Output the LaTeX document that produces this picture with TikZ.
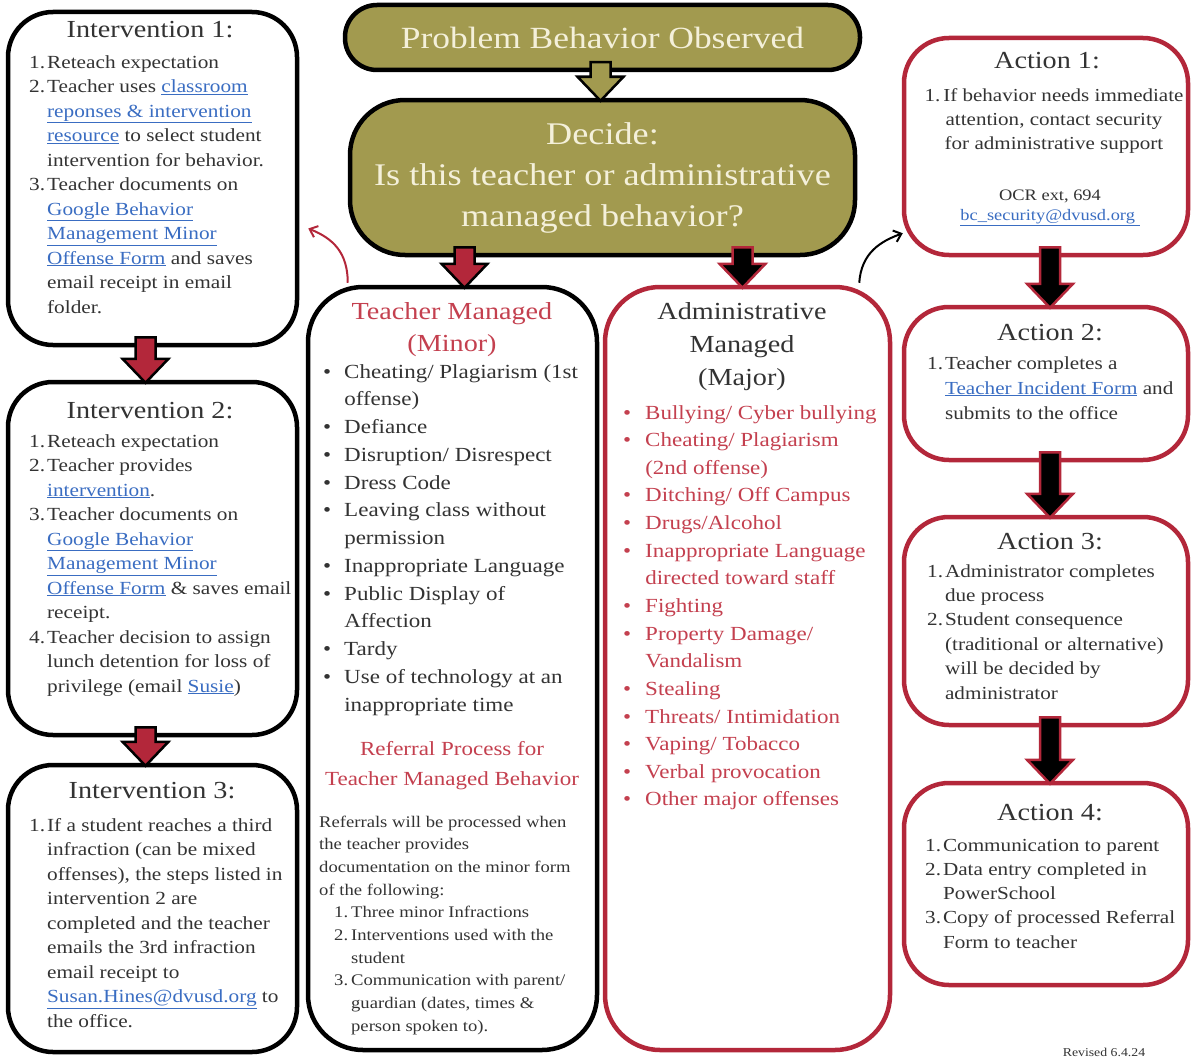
\documentclass[tikz,border=0pt]{standalone}
\usepackage{fontspec}
\setmainfont{Liberation Serif}[FakeStretch=1.15]
\usetikzlibrary{calc,arrows.meta}
\definecolor{olv}{HTML}{A29A4F}
\definecolor{brd}{HTML}{B3273A}
\definecolor{rtxt}{HTML}{C4404F}
\definecolor{btxt}{HTML}{333333}
\definecolor{lnkc}{HTML}{3A6DC2}
\definecolor{cream}{HTML}{F4F0DA}
\newcommand\lnk[1]{\textcolor{lnkc}{\underline{#1}}}
\newcommand\fs[2]{\fontsize{#1}{#2}\selectfont}
\newcommand\blockarr[5]{%
 \filldraw[fill=#4,draw=#5,line width=2.5pt,line join=miter]
 let \p1=(#1.south), \p2=(#2.north) in
 (\x2#3pt-10pt,\y1+10pt) -- (\x2#3pt+10pt,\y1+10pt) -- (\x2#3pt+10pt,\y2+21pt) --
 (\x2#3pt+23pt,\y2+21pt) -- (\x2#3pt,\y2-3pt) -- (\x2#3pt-23pt,\y2+21pt) --
 (\x2#3pt-10pt,\y2+21pt) -- cycle;}
\begin{document}
\begin{tikzpicture}[x=1pt,y=-1pt,
 bbox/.style={draw=black, line width=4.5pt, rounded corners=#1, inner sep=0pt, fill=white},
 bbox/.default=45pt,
 rbox/.style={bbox=#1, draw=brd},
 rbox/.default=45pt,
 obox/.style={bbox=#1, fill=olv, text=cream},
 obox/.default=30pt,
 txt/.style={inner sep=0pt, text=btxt},
 ttl/.style={txt, anchor=base, font=\fs{24.5}{30}},
 body/.style={txt, anchor=base west, font=\fs{18.5}{24.5}},
 curv/.style={line width=2pt, -{Straight Barb[length=7pt,width=12pt]}}
]
\useasboundingbox (0,0) rectangle (1191,1057);

% ---------- top boxes ----------
\node[obox=32pt, minimum width=515pt, minimum height=65pt, font=\fs{30.8}{41}] (prob) at (602.5,37.5) {Problem Behavior Observed};
\node[obox=55pt, minimum width=505pt, minimum height=155pt, font=\fs{31.5}{41}, align=center] (decide) at (602.5,177.5)
 {Decide:\\Is this teacher or administrative\\managed behavior?};

% ---------- left column ----------
\node[bbox=45pt, minimum width=289pt, minimum height=333pt] (int1) at (152.5,178.5) {};
\node[bbox=45pt, minimum width=289pt, minimum height=353pt] (int2) at (152.5,558.5) {};
\node[bbox=45pt, minimum width=289pt, minimum height=287pt] (int3) at (152.5,908.5) {};

% ---------- middle columns ----------
\node[bbox=55pt, minimum width=289pt, minimum height=763pt] (teacher) at (452.5,668.5) {};
\node[rbox=55pt, minimum width=285pt, minimum height=763pt] (admin) at (747.5,668.5) {};

% ---------- right column ----------
\node[rbox=45pt, minimum width=284pt, minimum height=217pt] (act1) at (1046,146.5) {};
\node[rbox=45pt, minimum width=284pt, minimum height=153pt] (act2) at (1046,383.5) {};
\node[rbox=45pt, minimum width=284pt, minimum height=208pt] (act3) at (1046,621) {};
\node[rbox=45pt, minimum width=284pt, minimum height=202pt] (act4) at (1046,884) {};

% ---------- block arrows ----------
\blockarr{prob}{decide}{-2}{olv}{black}
\blockarr{decide}{teacher}{+12}{brd}{black}
\blockarr{decide}{admin}{-5}{black}{brd}
\blockarr{int1}{int2}{-7}{brd}{black}
\blockarr{int2}{int3}{-7}{brd}{black}
\blockarr{act1}{act2}{+4}{black}{brd}
\blockarr{act2}{act3}{+4}{black}{brd}
\blockarr{act3}{act4}{+4}{black}{brd}

% ---------- curved arrows ----------
\coordinate (tstart) at ($(teacher.north west)+(42,-2)$);
\coordinate (i1end) at ($(int1.east)+(9,50)$);
\draw[curv, draw=brd] (tstart) .. controls +(0,-30) and +(25,10) .. (i1end);
\coordinate (astart) at ($(admin.north east)+(-33,-2)$);
\coordinate (a1end) at ($(act1.south west)+(1,-24)$);
\draw[curv, draw=black] (astart) .. controls +(2,-30) and +(-22,8) .. (a1end);

% ---------- Intervention 1 ----------
\node[ttl] (int1h) at (150,38) {Intervention 1:};
\node[body] (int1b) at (29,68) {\begin{tabular}[t]{@{}r@{\hspace{2pt}}l@{}}
1.&Reteach expectation\\
2.&Teacher uses \lnk{classroom}\\
&\lnk{reponses \& intervention}\\
&\lnk{resource} to select student\\
&intervention for behavior.\\
3.&Teacher documents on\\
&\lnk{Google Behavior}\\
&\lnk{Management Minor}\\
&\lnk{Offense Form} and saves\\
&email receipt in email\\
&folder.
\end{tabular}};

% ---------- Intervention 2 ----------
\node[ttl] (int2h) at (150,418) {Intervention 2:};
\node[body] (int2b) at (29,447) {\begin{tabular}[t]{@{}r@{\hspace{2pt}}l@{}}
1.&Reteach expectation\\
2.&Teacher provides\\
&\lnk{intervention}.\\
3.&Teacher documents on\\
&\lnk{Google Behavior}\\
&\lnk{Management Minor}\\
&\lnk{Offense Form} \& saves email\\
&receipt.\\
4.&Teacher decision to assign\\
&lunch detention for loss of\\
&privilege (email \lnk{Susie})
\end{tabular}};

% ---------- Intervention 3 ----------
\node[ttl] (int3h) at (152,798) {Intervention 3:};
\node[body] (int3b) at (29,831) {\begin{tabular}[t]{@{}r@{\hspace{2pt}}l@{}}
1.&If a student reaches a third\\
&infraction (can be mixed\\
&offenses), the steps listed in\\
&intervention 2 are\\
&completed and the teacher\\
&emails the 3rd infraction\\
&email receipt to\\
&\lnk{Susan.Hines@dvusd.org} to\\
&the office.
\end{tabular}};

% ---------- Teacher managed ----------
\node[ttl, text=rtxt, font=\fs{24.5}{32}] (teah) at (452,319) {\begin{tabular}[t]{@{}c@{}}Teacher Managed\\(Minor)\end{tabular}};
\node[body, font=\fs{20}{27.75}] (teab) at (323,378) {\begin{tabular}[t]{@{}l@{\hspace{13pt}}l@{}}
\textbullet&Cheating/ Plagiarism (1st\\
&offense)\\
\textbullet&Defiance\\
\textbullet&Disruption/ Disrespect\\
\textbullet&Dress Code\\
\textbullet&Leaving class without\\
&permission\\
\textbullet&Inappropriate Language\\
\textbullet&Public Display of\\
&Affection\\
\textbullet&Tardy\\
\textbullet&Use of technology at an\\
&inappropriate time
\end{tabular}};
\node[ttl, text=rtxt, font=\fs{20}{30}] (refh) at (452,755) {\begin{tabular}[t]{@{}c@{}}Referral Process for\\Teacher Managed Behavior\end{tabular}};
\node[body, font=\fs{16.2}{22.67}] (refb) at (319,827) {\begin{tabular}[t]{@{}r@{\hspace{3pt}}l@{}}
\multicolumn{2}{@{}l@{}}{Referrals will be processed when}\\
\multicolumn{2}{@{}l@{}}{the teacher provides}\\
\multicolumn{2}{@{}l@{}}{documentation on the minor form}\\
\multicolumn{2}{@{}l@{}}{of the following:}\\
\hspace{15pt}1.&Three minor Infractions\\
2.&Interventions used with the\\
&student\\
3.&Communication with parent/\\
&guardian (dates, times \&\\
&person spoken to).
\end{tabular}};

% ---------- Administrative managed ----------
\node[ttl, font=\fs{24.5}{33}] (admh) at (742,319) {\begin{tabular}[t]{@{}c@{}}Administrative\\Managed\\(Major)\end{tabular}};
\node[body, text=rtxt, font=\fs{20}{27.64}] (admb) at (623,419) {\begin{tabular}[t]{@{}l@{\hspace{14pt}}l@{}}
\textbullet&Bullying/ Cyber bullying\\
\textbullet&Cheating/ Plagiarism\\
&(2nd offense)\\
\textbullet&Ditching/ Off Campus\\
\textbullet&Drugs/Alcohol\\
\textbullet&Inappropriate Language\\
&directed toward staff\\
\textbullet&Fighting\\
\textbullet&Property Damage/\\
&Vandalism\\
\textbullet&Stealing\\
\textbullet&Threats/ Intimidation\\
\textbullet&Vaping/ Tobacco\\
\textbullet&Verbal provocation\\
\textbullet&Other major offenses
\end{tabular}};

% ---------- Actions ----------
\node[ttl] (a1h) at (1047,68) {Action 1:};
\node[txt, anchor=base, font=\fs{18.3}{24}] (a1b) at (1054,101) {\begin{tabular}[t]{@{}c@{}}
1.\,If behavior needs immediate\\
attention, contact security\\
for administrative support
\end{tabular}};
\node[txt, anchor=base, font=\fs{16}{20}] (a1c) at (1050,200) {\begin{tabular}[t]{@{}c@{}}
OCR ext, 694\\
\lnk{bc\_security@dvusd.org\ }
\end{tabular}};

\node[ttl] (a2h) at (1050,340) {Action 2:};
\node[body, font=\fs{18.4}{25}] (a2b) at (927,369) {\begin{tabular}[t]{@{}r@{\hspace{2pt}}l@{}}
1.&Teacher completes a\\
&\lnk{Teacher Incident Form} and\\
&submits to the office
\end{tabular}};

\node[ttl] (a3h) at (1050,549) {Action 3:};
\node[body, font=\fs{18.4}{24.4}] (a3b) at (927,577) {\begin{tabular}[t]{@{}r@{\hspace{2pt}}l@{}}
1.&Administrator completes\\
&due process\\
2.&Student consequence\\
&(traditional or alternative)\\
&will be decided by\\
&administrator
\end{tabular}};

\node[ttl] (a4h) at (1050,820) {Action 4:};
\node[body, font=\fs{18.4}{24.25}] (a4b) at (925,851) {\begin{tabular}[t]{@{}r@{\hspace{2pt}}l@{}}
1.&Communication to parent\\
2.&Data entry completed in\\
&PowerSchool\\
3.&Copy of processed Referral\\
&Form to teacher
\end{tabular}};

\node[txt, anchor=base, font=\fs{12}{14}] (rev) at (1104,1056) {Revised 6.4.24};
\end{tikzpicture}
\end{document}
